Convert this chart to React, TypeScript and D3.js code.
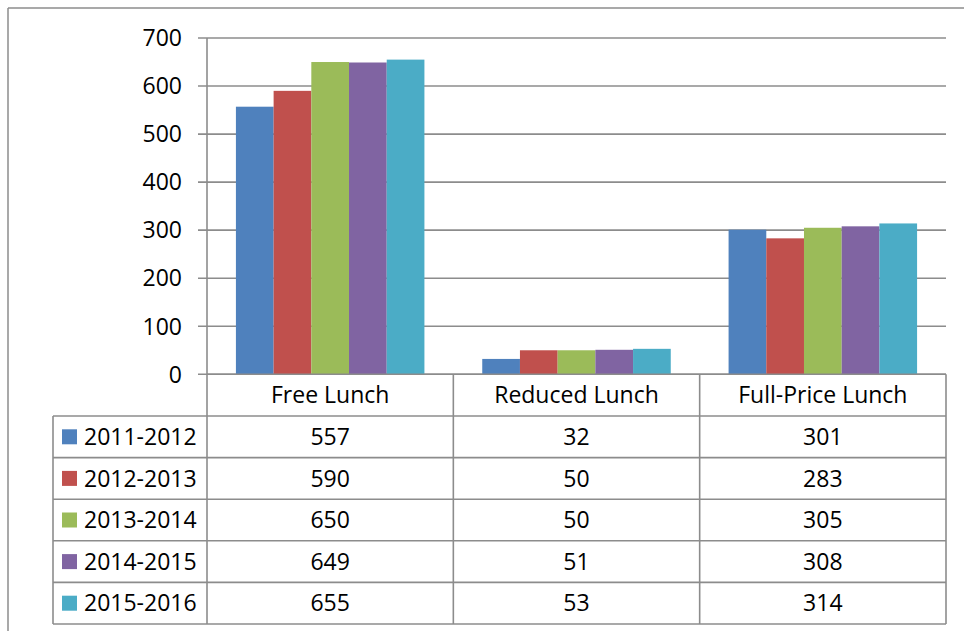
import React from "react";
import * as d3 from "d3";

const categories = ["Free Lunch", "Reduced Lunch", "Full-Price Lunch"];
const seriesNames = ["2011-2012", "2012-2013", "2013-2014", "2014-2015", "2015-2016"];
const freeLunch = [557, 590, 650, 649, 655];
const reducedLunch = [32, 50, 50, 51, 53];
const fullPriceLunch = [301, 283, 305, 308, 314];
const colors = ["#4F81BD", "#C0504D", "#9BBB59", "#8064A2", "#4BACC6"];
const yTicks = [0, 100, 200, 300, 400, 500, 600, 700];

const W = 964;
const H = 631;
const FONT = "'Open Sans', Lato, sans-serif";
const FS = 23;
const LINE = "#8c8c8c";

export default function App() {
  const columns = [freeLunch, reducedLunch, fullPriceLunch];
  const plotLeft = 207;
  const plotRight = 946;
  const y = d3.scaleLinear().domain([0, 700]).range([374.3, 38]);
  const x = d3.scaleBand<string>().domain(categories).range([plotLeft, plotRight]).padding(0);
  const xs = d3
    .scaleBand<string>()
    .domain(seriesNames)
    .range([0, x.bandwidth()])
    .paddingInner(0)
    .paddingOuter(0.767);

  const tableTop = y(0);
  const headerBottom = 416;
  const rowH = 41.6;
  const tableLeft = 53;
  const tableBottom = headerBottom + rowH * seriesNames.length;

  return (
    <svg
      width={W}
      height={H}
      style={{ position: "absolute", left: 0, top: 0, background: "#fff" }}
      fontFamily={FONT}
    >
      <rect x={0} y={0} width={W} height={H} fill="#fff" />
      {/* outer frame */}
      <line x1={8} x2={W} y1={8} y2={8} stroke={LINE} strokeWidth={1.5} />
      <line x1={8} x2={8} y1={8} y2={H} stroke={LINE} strokeWidth={1.5} />

      {/* gridlines and ticks */}
      {yTicks.map((t) => (
        <g key={t}>
          <line x1={198} x2={plotRight} y1={y(t)} y2={y(t)} stroke={LINE} strokeWidth={1.6} />
          <text x={182} y={y(t)} dy="0.36em" textAnchor="end" fontSize={FS} fill="#000">
            {t}
          </text>
        </g>
      ))}

      {/* bars */}
      {categories.map((c, ci) =>
        seriesNames.map((s, si) => {
          const v = columns[ci][si];
          return (
            <rect
              key={c + s}
              x={(x(c) as number) + (xs(s) as number)}
              y={y(v)}
              width={xs.bandwidth()}
              height={y(0) - y(v)}
              fill={colors[si]}
            />
          );
        })
      )}

      {/* axis lines */}
      <line x1={plotLeft} x2={plotLeft} y1={y(700)} y2={tableBottom} stroke={LINE} strokeWidth={1.6} />
      <line x1={plotLeft} x2={plotRight} y1={y(0)} y2={y(0)} stroke={LINE} strokeWidth={1.6} />

      {/* data table */}
      {categories.map((c) => (
        <g key={c}>
          <line
            x1={(x(c) as number) + x.bandwidth()}
            x2={(x(c) as number) + x.bandwidth()}
            y1={tableTop}
            y2={tableBottom}
            stroke={LINE}
            strokeWidth={1.6}
          />
          <text
            x={(x(c) as number) + x.bandwidth() / 2}
            y={(tableTop + headerBottom) / 2}
            dy="0.36em"
            textAnchor="middle"
            fontSize={FS}
            fill="#000"
          >
            {c}
          </text>
        </g>
      ))}
      <line x1={tableLeft} x2={tableLeft} y1={headerBottom} y2={tableBottom} stroke={LINE} strokeWidth={1.6} />
      {seriesNames.map((s, si) => {
        const top = headerBottom + rowH * si;
        const cy = top + rowH / 2;
        return (
          <g key={s}>
            <line x1={tableLeft} x2={plotRight} y1={top} y2={top} stroke={LINE} strokeWidth={1.6} />
            <rect x={62} y={cy - 7.5} width={15} height={15} fill={colors[si]} />
            <text x={84} y={cy} dy="0.36em" fontSize={FS} fill="#000">
              {s}
            </text>
            {categories.map((c, ci) => (
              <text
                key={c}
                x={(x(c) as number) + x.bandwidth() / 2}
                y={cy}
                dy="0.36em"
                textAnchor="middle"
                fontSize={FS}
                fill="#000"
              >
                {columns[ci][si]}
              </text>
            ))}
          </g>
        );
      })}
      <line x1={tableLeft} x2={plotRight} y1={tableBottom} y2={tableBottom} stroke={LINE} strokeWidth={1.6} />
    </svg>
  );
}
